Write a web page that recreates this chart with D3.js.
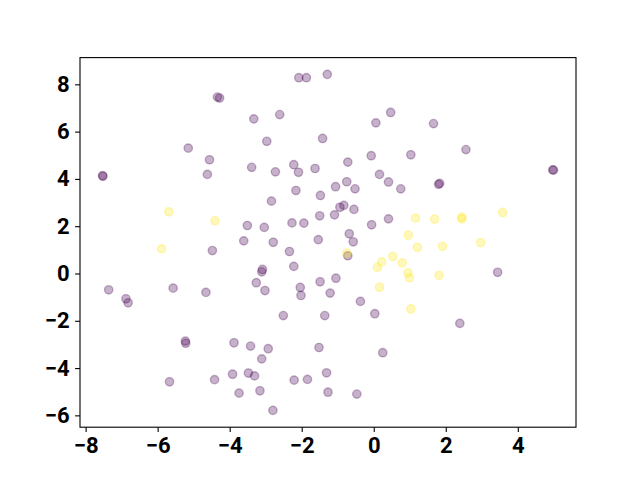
<!DOCTYPE html>
<html>
<head>
<meta charset="utf-8">
<script src="https://cdn.jsdelivr.net/npm/d3@7"></script>
<style>
  body { margin: 0; background: #fff; }
  .tick text { font-family: Roboto, "Liberation Sans", sans-serif; font-weight: bold; }
</style>
</head>
<body>
<div id="chart"></div>
<script>
// class 0 points (purple)
var purpleX = [-2.08, -1.87, -1.29, -4.34, -4.28, -3.33, -2.61, 0.06, 0.47, -2.97,
    -1.42, -0.07, 1.03, -3.39, -2.73, -2.22, -2.09, -1.63, -0.72, 0.16,
    0.41, -0.75, -1.06, -0.52, 0.75, -5.15, -4.56, -4.62, -7.52, -7.53,
    1.66, 2.56, 4.99, 4.97, 1.83, 1.80, -3.51, -3.61, -4.48, -7.36,
    -6.88, -6.82, -5.57, -4.66, -2.16, -2.84, -1.48, -0.94, -0.83, -0.55,
    -1.50, -1.09, -3.04, -2.27, -1.94, -0.06, 0.41, -2.79, -1.54, -0.68,
    -0.57, -2.34, -0.72, -2.22, -3.09, -3.11, -3.26, -3.02, -1.49, -1.05,
    -2.04, -2.02, -1.21, -0.37, 0.03, 3.44, -5.23, -5.22, -3.88, -3.42,
    -5.67, -4.42, -3.92, -3.48, -3.74, -2.51, -1.36, -2.93, -3.11, -1.52,
    0.25, -3.31, -2.21, -1.84, -1.31, -3.16, -1.27, -0.47, -2.80, 2.39];
var purpleY = [8.28, 8.28, 8.42, 7.46, 7.42, 6.54, 6.72, 6.37, 6.81, 5.59,
    5.71, 4.98, 5.02, 4.49, 4.30, 4.60, 4.28, 4.44, 4.71, 4.19,
    3.87, 3.88, 3.67, 3.58, 3.58, 5.30, 4.81, 4.19, 4.11, 4.14,
    6.34, 5.24, 4.37, 4.38, 3.81, 3.77, 2.03, 1.38, 0.97, -0.69,
    -1.07, -1.24, -0.62, -0.80, 3.51, 3.06, 3.30, 2.80, 2.88, 2.71,
    2.44, 2.48, 1.95, 2.14, 2.13, 2.06, 2.31, 1.32, 1.43, 1.68,
    1.34, 0.93, 0.75, 0.30, 0.17, 0.07, -0.39, -0.72, -0.35, -0.20,
    -0.59, -0.93, -0.83, -1.18, -1.70, 0.05, -2.86, -2.95, -2.93, -3.07,
    -4.58, -4.49, -4.26, -4.21, -5.06, -1.78, -1.78, -3.18, -3.61, -3.13,
    -3.35, -4.33, -4.51, -4.48, -4.20, -4.96, -5.02, -5.10, -5.79, -2.11];

// class 1 points (yellow)
var yellowX = [-5.69, -4.41, -5.89, -0.75, 1.16, 1.69, 2.44, 2.45, 3.58, 0.96,
    1.21, 1.91, 2.97, 0.22, 0.10, 0.53, 0.79, 0.95, 0.99, 1.81,
    0.16, 1.03];
var yellowY = [2.61, 2.23, 1.04, 0.86, 2.34, 2.30, 2.38, 2.31, 2.58, 1.62,
    1.11, 1.15, 1.31, 0.49, 0.26, 0.72, 0.45, 0.03, -0.18, -0.08,
    -0.58, -1.50];

var xTicks = [-8, -6, -4, -2, 0, 2, 4];
var yTicks = [-6, -4, -2, 0, 2, 4, 6, 8];

var width = 640, height = 480;
var margin = {left: 80, right: 64, top: 57.6, bottom: 52.8};

var points = [];
purpleX.forEach(function(x, i) { points.push({x: x, y: purpleY[i], c: "#440154"}); });
yellowX.forEach(function(x, i) { points.push({x: x, y: yellowY[i], c: "#fde725"}); });

// matplotlib style 5% margins
function padded(vals) {
    var ext = d3.extent(vals);
    var pad = (ext[1] - ext[0]) * 0.05;
    return [ext[0] - pad, ext[1] + pad];
}

var x = d3.scaleLinear()
    .domain(padded(points.map(function(d) { return d.x; })))
    .range([margin.left, width - margin.right]);
var y = d3.scaleLinear()
    .domain(padded(points.map(function(d) { return d.y; })))
    .range([height - margin.bottom, margin.top]);

var svg = d3.select("#chart").append("svg")
    .attr("width", width)
    .attr("height", height);

//Draw points
svg.append("g")
    .selectAll("circle")
    .data(points)
    .enter().append("circle")
    .attr("cx", function(d) { return x(d.x); })
    .attr("cy", function(d) { return y(d.y); })
    .attr("r", 4.17)
    .style("fill", function(d) { return d.c; })
    .style("fill-opacity", 0.3)
    .style("stroke", function(d) { return d.c; })
    .style("stroke-opacity", 0.3)
    .style("stroke-width", 1.39);

//Axes
var fmt = function(d) { return d < 0 ? "\u2212" + Math.abs(d) : d; };
var xAxis = svg.append("g")
    .attr("transform", "translate(0," + (height - margin.bottom) + ")")
    .call(d3.axisBottom(x).tickValues(xTicks).tickSize(4.9).tickPadding(4.9).tickFormat(fmt));
var yAxis = svg.append("g")
    .attr("transform", "translate(" + margin.left + ",0)")
    .call(d3.axisLeft(y).tickValues(yTicks).tickSize(4.9).tickPadding(5.5).tickFormat(fmt));

[xAxis, yAxis].forEach(function(ax) {
    ax.select(".domain").remove();
    ax.selectAll(".tick line").style("stroke", "#000").style("stroke-width", 1.1);
    ax.selectAll(".tick text").style("font-size", "22px").style("fill", "#000");
});

//Frame
svg.append("rect")
    .attr("x", margin.left)
    .attr("y", margin.top)
    .attr("width", width - margin.left - margin.right)
    .attr("height", height - margin.top - margin.bottom)
    .style("fill", "none")
    .style("stroke", "#000")
    .style("stroke-width", 1.1);
</script>
</body>
</html>
